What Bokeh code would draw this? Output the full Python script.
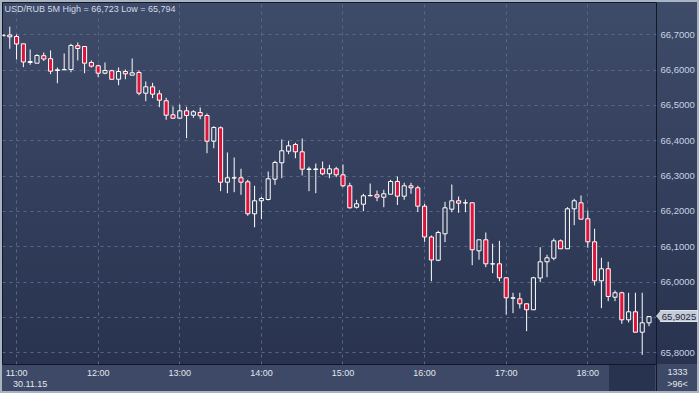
import numpy as np
from bokeh.plotting import figure
from bokeh.layouts import column
from bokeh.models import (Range1d, FixedTicker, CustomJSTickFormatter, Label, Div)
from bokeh.embed import file_html
from bokeh.resources import INLINE

# ---- data: USD/RUB, 5-minute bars, 30.11.15, first bar 10:50 ----
FIRST_BAR = (10, 50)
BAR_MINUTES = 5
OPEN = [66.6972, 66.6994, 66.6952, 66.6745, 66.6216, 66.6196, 66.6408, 66.6324, 66.5990, 66.6009,
        66.6018, 66.6691, 66.6669, 66.6216, 66.6123, 66.5913, 66.5984, 66.5743, 66.5961, 66.5857,
        66.5933, 66.5347, 66.5528, 66.5330, 66.5132, 66.4736, 66.4639, 66.4849, 66.4724, 66.4801,
        66.4716, 66.3988, 66.4368, 66.2828, 66.2947, 66.2953, 66.2839, 66.1934, 66.2302, 66.2338,
        66.2913, 66.3377, 66.3705, 66.3895, 66.3688, 66.3187, 66.3187, 66.3207, 66.3066, 66.3207,
        66.3037, 66.2726, 66.2120, 66.2205, 66.2443, 66.2471, 66.2404, 66.2488, 66.2848, 66.2432,
        66.2726, 66.2669, 66.2149, 66.1277, 66.0620, 66.1367, 66.2064, 66.2302, 66.2239, 66.2245,
        66.0886, 66.1198, 66.0513, 66.0518, 66.0122, 65.9545, 65.9528, 65.9386, 65.9217, 66.0116,
        66.0575, 66.0677, 66.1169, 66.0943, 66.2075, 66.2245, 66.1792, 66.1141, 66.0037, 66.0377,
        65.9573, 65.9698, 65.8933, 65.9160, 65.8582, 65.8848]
HIGH = [66.7000, 66.7230, 66.7008, 66.6745, 66.6584, 66.6451, 66.6499, 66.6556, 66.6074, 66.6471,
        66.6745, 66.6782, 66.6669, 66.6273, 66.6151, 66.6216, 66.6009, 66.6074, 66.6018, 66.6329,
        66.5990, 66.5678, 66.5641, 66.5432, 66.5217, 66.4971, 66.5027, 66.4962, 66.4866, 66.4942,
        66.4772, 66.4413, 66.4404, 66.3669, 66.3527, 66.3207, 66.2896, 66.2726, 66.2415, 66.3131,
        66.3434, 66.4037, 66.4000, 66.3943, 66.4065, 66.3264, 66.3357, 66.3414, 66.3320, 66.3264,
        66.3329, 66.2811, 66.2330, 66.2500, 66.2791, 66.2593, 66.2613, 66.2896, 66.2989, 66.2811,
        66.2811, 66.2726, 66.2217, 66.1319, 66.1452, 66.2273, 66.2763, 66.2423, 66.2338, 66.2253,
        66.1198, 66.1404, 66.1085, 66.1169, 66.0130, 65.9698, 65.9698, 65.9395, 66.0150, 66.0988,
        66.0773, 66.1234, 66.1206, 66.2121, 66.2358, 66.2452, 66.2027, 66.1509, 66.0688, 66.0575,
        65.9763, 65.9726, 65.9698, 65.9698, 65.9698, 65.9027]
LOW = [66.6963, 66.6604, 66.6301, 66.6083, 66.6151, 66.6196, 66.6258, 66.5885, 66.5630, 66.6004,
       66.5941, 66.6273, 66.5913, 66.6074, 66.5800, 66.5885, 66.5735, 66.5573, 66.5743, 66.5857,
       66.5290, 66.5121, 66.5206, 66.4951, 66.4594, 66.4631, 66.4631, 66.4073, 66.4651, 66.4611,
       66.3649, 66.3790, 66.2573, 66.2517, 66.2545, 66.2471, 66.1877, 66.1554, 66.1781, 66.2310,
       66.2754, 66.2941, 66.3621, 66.3507, 66.3018, 66.2573, 66.2517, 66.3026, 66.2941, 66.2970,
       66.2687, 66.2084, 66.2084, 66.2007, 66.2432, 66.2290, 66.2120, 66.2488, 66.2183, 66.2330,
       66.2500, 66.1984, 66.1141, 66.0026, 66.0592, 66.1130, 66.1979, 66.1962, 66.1979, 66.0479,
       66.0632, 66.0422, 66.0252, 66.0026, 65.9083, 65.9120, 65.9253, 65.8611, 65.9217, 65.9999,
       66.0139, 66.0620, 66.0937, 66.0937, 66.1611, 66.1781, 66.0971, 65.9904, 65.9262, 65.9460,
       65.9460, 65.8820, 65.8857, 65.8582, 65.7940, 65.8752]
CLOSE = [66.6992, 66.6943, 66.6740, 66.6230, 66.6244, 66.6414, 66.6315, 66.5970, 66.6009, 66.6018,
         66.6697, 66.6612, 66.6196, 66.6111, 66.5913, 66.5990, 66.5740, 66.5961, 66.5896, 66.5924,
         66.5347, 66.5528, 66.5319, 66.5149, 66.4724, 66.4639, 66.4849, 66.4716, 66.4821, 66.4707,
         66.3988, 66.4376, 66.2828, 66.2953, 66.2953, 66.2828, 66.1934, 66.2302, 66.2367, 66.2924,
         66.3386, 66.3717, 66.3858, 66.3688, 66.3196, 66.3202, 66.3202, 66.3066, 66.3207, 66.3037,
         66.2726, 66.2103, 66.2217, 66.2443, 66.2452, 66.2404, 66.2500, 66.2848, 66.2432, 66.2726,
         66.2669, 66.2149, 66.1277, 66.0626, 66.1404, 66.2103, 66.2302, 66.2234, 66.2245, 66.0915,
         66.1198, 66.0518, 66.0518, 66.0122, 65.9556, 65.9556, 65.9386, 65.9217, 66.0122, 66.0575,
         66.0688, 66.1169, 66.0943, 66.2075, 66.2302, 66.1781, 66.1141, 66.0037, 66.0377, 65.9593,
         65.9698, 65.8933, 65.9160, 65.8582, 65.8848, 65.9025]
HOUR_LABELS = ["11:00", "12:00", "13:00", "14:00", "15:00", "16:00", "17:00", "18:00"]
Y_TICKS = [65.8, 65.9, 66.0, 66.1, 66.2, 66.3, 66.4, 66.5, 66.6, 66.7]
LAST_PRICE = 65.9025
DATE_LABEL = "30.11.15"
TITLE = "USD/RUB 5M High = 66,723 Low = 65,794"
BAR_TOTAL = "1333"
BARS_VISIBLE = ">96<"

# ---- layout ----
W, H = 699, 393
LEFT, TOP, RIGHT, BOTTOM = 2, 2, 43, 29
FW = W - LEFT - RIGHT
FH = H - TOP - BOTTOM
X0, X1 = -0.07, 96.1
Y0, Y1 = 65.7668, 66.7914

RED = "#dc143c"
GRID = "#5a6886"
BAND = "#3d4966"
DARK = "#121826"
TAG = "#c5ccd7"
FONT = "'Liberation Sans', Arial, sans-serif"

def hour_index(lbl):
    hh, mm = map(int, lbl.split(":"))
    return ((hh * 60 + mm) - (FIRST_BAR[0] * 60 + FIRST_BAR[1])) // BAR_MINUTES

hour_idx = [hour_index(s) for s in HOUR_LABELS]

p = figure(width=W, height=H, output_backend="svg", toolbar_location=None,
           x_range=Range1d(X0, X1), y_range=Range1d(Y0, Y1),
           y_axis_location="right",
           min_border_left=LEFT, min_border_top=TOP,
           min_border_right=RIGHT, min_border_bottom=BOTTOM)

fb = TOP + FH  # frame bottom in canvas px
fr = LEFT + FW  # frame right in canvas px
layers = [
    f"linear-gradient({DARK},{DARK}) {fr}px {fb}px / 1px {BOTTOM - 2}px no-repeat",
    f"linear-gradient(#28334f,#28334f) {fr - 47}px {fb + 1}px / 46px {BOTTOM - 3}px no-repeat",
    f"linear-gradient({BAND},{BAND}) 0px {fb}px / 100% {BOTTOM}px no-repeat",
    "linear-gradient(to bottom, #3e4b69 0%, #27314e 100%)",
]
p.styles = {"background": ", ".join(layers),
            "outline": "2px solid #a9b3c2", "outline-offset": "-2px"}
p.background_fill_alpha = 0
p.border_fill_alpha = 0
p.outline_line_color = DARK
p.outline_line_width = 1

# axes
p.xaxis.ticker = FixedTicker(ticks=hour_idx)
p.xaxis.major_label_overrides = {i: s for i, s in zip(hour_idx, HOUR_LABELS)}
p.yaxis.ticker = FixedTicker(ticks=Y_TICKS)
p.yaxis.formatter = CustomJSTickFormatter(
    args=dict(last=LAST_PRICE),
    code="if (Math.abs(tick - last) < 0.03) { return ''; } return tick.toFixed(4).replace('.', ',');")
for ax in (p.xaxis[0], p.yaxis[0]):
    ax.axis_line_color = None
    ax.major_tick_line_color = None
    ax.minor_tick_line_color = None
    ax.major_tick_out = 0
    ax.major_tick_in = 0
    ax.minor_tick_out = 0
    ax.major_label_text_font = "Liberation Sans"
p.xaxis.major_label_standoff = 3
p.yaxis.major_label_standoff = 4
p.xaxis.major_label_text_font_size = "9px"
p.xaxis.major_label_text_color = "#e2e7ef"
p.yaxis.major_label_text_font_size = "9.5px"
p.yaxis.major_label_text_color = "#c9d3e3"

for g in (p.xgrid[0], p.ygrid[0]):
    g.grid_line_color = GRID
    g.grid_line_dash = "3 4"
    g.grid_line_width = 1
p.xgrid.ticker = FixedTicker(ticks=hour_idx)

# candles
o = np.array(OPEN); h = np.array(HIGH); l = np.array(LOW); c = np.array(CLOSE)
idx = np.arange(len(o))
top = np.maximum(o, c); bot = np.minimum(o, c)
p.segment(idx, h, idx, top, line_color="white", line_width=1)
p.segment(idx, bot, idx, l, line_color="white", line_width=1)
up = c >= o
p.vbar(x=idx[up], top=top[up], bottom=bot[up], width=0.6,
       fill_color=None, line_color="white", line_width=1)
p.vbar(x=idx[~up], top=top[~up], bottom=bot[~up], width=0.6,
       fill_color=RED, line_color="white", line_width=1)

# title inside the plot area
p.add_layout(Label(x=2, y=FH - 6, x_units="screen", y_units="screen", text=TITLE,
                   text_font="Liberation Sans", text_font_size="9px",
                   text_color="#d3dbe8", text_baseline="middle"))

# texts in the axis band / right column (HTML overlays)
def overlay(text, left, top, width, height, extra=None):
    st = {"position": "absolute", "left": f"{left}px", "top": f"{top}px",
          "font-family": FONT, "font-size": "9px", "color": "#e2e7ef",
          "line-height": f"{height}px", "white-space": "nowrap", "z-index": "5"}
    if extra:
        st.update(extra)
    return Div(text=text, width=width, height=height, margin=0, styles=st)

price_y = TOP + (Y1 - LAST_PRICE) / (Y1 - Y0) * FH
tag = overlay(f"{LAST_PRICE:.4f}".replace(".", ","), fr + 4, round(price_y - 6), 38, 12,
              {"background": TAG, "color": "#1c2740", "font-size": "9.5px",
               "text-align": "center", "box-sizing": "border-box",
               "border": "1px solid #dfe4ea"})
arrow = overlay("", fr, round(price_y - 6), 0, 0,
                {"width": "0px", "height": "0px", "border-top": "6px solid transparent",
                 "border-bottom": "6px solid transparent", "border-right": f"5px solid {TAG}"})
date = overlay(DATE_LABEL, 13, fb + 14, 45, 12)
tot = overlay(BAR_TOTAL, fr + 1, fb + 2, 41, 12, {"text-align": "center"})
vis = overlay(BARS_VISIBLE, fr + 1, fb + 14, 41, 12, {"text-align": "center"})

layout = column(p, tag, arrow, date, tot, vis, spacing=0)
layout.styles = {"position": "relative"}

open("out.html", "w").write(file_html(layout, INLINE))
